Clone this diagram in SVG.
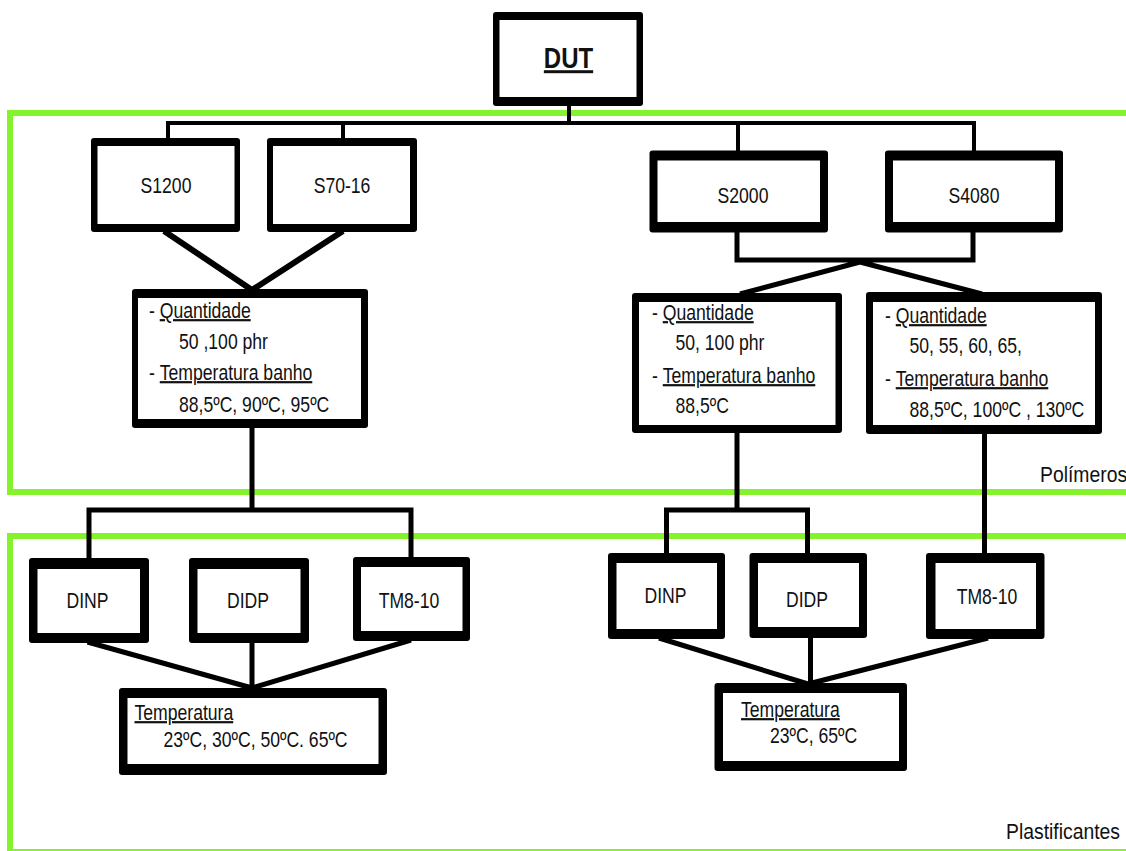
<svg xmlns="http://www.w3.org/2000/svg" width="1126" height="851" viewBox="0 0 1126 851">
<style>
.g{fill:none;stroke:#84f22c;stroke-width:6}
.o{fill:#000}
.i{fill:#fff}
.c{fill:none;stroke:#000;stroke-linejoin:miter;stroke-linecap:butt}
.t{font-family:"Liberation Sans",Arial,sans-serif;font-size:22px;fill:#111}
.m{text-anchor:middle}
.u{text-decoration:underline}
</style>
<rect width="1126" height="851" fill="#fff"/>
<g id="zones">
<rect class="g" x="10" y="113" width="1140" height="379"/>
<rect class="g" x="10" y="536" width="1140" height="316"/>
<text class="t" transform="translate(1040,482) scale(0.88,1)">Polímeros</text>
<text class="t" transform="translate(1006,839) scale(0.88,1)">Plastificantes</text>
</g>
<g id="connectors">
<path class="c" stroke-width="4" d="M569 104V123M168 140V123H974V152M343 123V140M738 123V152"/>
<path class="c" stroke-width="6" d="M164 231L252 290M343 231L252 290"/>
<path class="c" stroke-width="5" d="M737 232V260H973V232M860 262L740 294M860 262L982 294"/>
<path class="c" stroke-width="5" d="M252 428V510M89 558V510H411V558"/>
<path class="c" stroke-width="5" d="M737 433V510M666.5 555V510H807.5V555"/>
<path class="c" stroke-width="5" d="M984.5 434V555"/>
<path class="c" stroke-width="5" d="M87.5 642L252 688M252 643V688M411 640L252 688"/>
<path class="c" stroke-width="5" d="M659 638L808 684M810.5 638V684M988 638L808 684"/>
</g>
<g id="DUT">
<rect class="o" x="493" y="12" width="150" height="94" rx="3"/>
<rect class="i" x="499.5" y="20" width="137" height="77"/>
<text class="t m u" style="font-size:30px;font-weight:bold" transform="translate(568.5,68) scale(0.8,1)">DUT</text>
</g>
<g id="S1200">
<rect class="o" x="91" y="138" width="149" height="94" rx="3"/>
<rect class="i" x="97.5" y="146" width="137" height="78"/>
<text class="t m" transform="translate(166,193) scale(0.8,1)">S1200</text>
</g>
<g id="S70-16">
<rect class="o" x="267" y="138" width="150" height="94" rx="3"/>
<rect class="i" x="273" y="146" width="137" height="78"/>
<text class="t m" transform="translate(342,193) scale(0.8,1)">S70-16</text>
</g>
<g id="S2000">
<rect class="o" x="649.5" y="150.5" width="178.5" height="82" rx="3"/>
<rect class="i" x="657.5" y="160.5" width="162.5" height="61.5"/>
<text class="t m" transform="translate(743,203) scale(0.8,1)">S2000</text>
</g>
<g id="S4080">
<rect class="o" x="885" y="150.5" width="178" height="82" rx="3"/>
<rect class="i" x="893" y="160.5" width="162" height="61.5"/>
<text class="t m" transform="translate(974,203) scale(0.8,1)">S4080</text>
</g>
<g id="P1">
<rect class="o" x="132" y="289" width="236" height="139" rx="3"/>
<rect class="i" x="138" y="298" width="223" height="121"/>
<text class="t" transform="translate(149,318) scale(0.8,1)">- <tspan class="u">Quantidade</tspan></text>
<text class="t" transform="translate(179,349) scale(0.8,1)">50 ,100 phr</text>
<text class="t" transform="translate(149,380) scale(0.8,1)">- <tspan class="u">Temperatura banho</tspan></text>
<text class="t" transform="translate(179,412) scale(0.8,1)">88,5ºC, 90ºC, 95ºC</text>
</g>
<g id="P2">
<rect class="o" x="632" y="293" width="210" height="140" rx="3"/>
<rect class="i" x="639" y="302" width="196.5" height="123"/>
<text class="t" transform="translate(652,320) scale(0.8,1)">- <tspan class="u">Quantidade</tspan></text>
<text class="t" transform="translate(675.5,350) scale(0.8,1)">50, 100 phr</text>
<text class="t" transform="translate(652,383) scale(0.8,1)">- <tspan class="u">Temperatura banho</tspan></text>
<text class="t" transform="translate(675.5,413) scale(0.8,1)">88,5ºC</text>
</g>
<g id="P3">
<rect class="o" x="866" y="292" width="236" height="142" rx="3"/>
<rect class="i" x="873" y="302" width="222" height="123"/>
<text class="t" transform="translate(885,323) scale(0.8,1)">- <tspan class="u">Quantidade</tspan></text>
<text class="t" transform="translate(909.5,353) scale(0.8,1)">50, 55, 60, 65,</text>
<text class="t" transform="translate(885,386) scale(0.8,1)">- <tspan class="u">Temperatura banho</tspan></text>
<text class="t" transform="translate(909.5,417) scale(0.8,1)">88,5ºC, 100ºC , 130ºC</text>
</g>
<g id="DINP1">
<rect class="o" x="29" y="558" width="120" height="85" rx="3"/>
<rect class="i" x="37.5" y="569" width="102.5" height="64"/>
<text class="t m" transform="translate(87.5,608) scale(0.8,1)">DINP</text>
</g>
<g id="DIDP1">
<rect class="o" x="189" y="558" width="120" height="85" rx="3"/>
<rect class="i" x="197.5" y="569" width="103" height="64"/>
<text class="t m" transform="translate(248,608) scale(0.8,1)">DIDP</text>
</g>
<g id="TM1">
<rect class="o" x="353" y="557" width="117" height="84" rx="3"/>
<rect class="i" x="361" y="567" width="101.5" height="64"/>
<text class="t m" transform="translate(409,608) scale(0.8,1)">TM8-10</text>
</g>
<g id="T1">
<rect class="o" x="119" y="688" width="268" height="87" rx="3"/>
<rect class="i" x="127.5" y="698" width="251" height="66"/>
<text class="t u" transform="translate(134.5,720) scale(0.8,1)">Temperatura</text>
<text class="t" transform="translate(163.5,747) scale(0.8,1)">23ºC, 30ºC, 50ºC. 65ºC</text>
</g>
<g id="DINP2">
<rect class="o" x="608" y="553" width="117" height="86" rx="3"/>
<rect class="i" x="616.5" y="563" width="100.5" height="66"/>
<text class="t m" transform="translate(665.5,603) scale(0.8,1)">DINP</text>
</g>
<g id="DIDP2">
<rect class="o" x="749.5" y="553" width="117.5" height="85" rx="3"/>
<rect class="i" x="758" y="563" width="101" height="64"/>
<text class="t m" transform="translate(807,607) scale(0.8,1)">DIDP</text>
</g>
<g id="TM2">
<rect class="o" x="926" y="553" width="118.5" height="86" rx="3"/>
<rect class="i" x="935.5" y="563" width="100.5" height="66"/>
<text class="t m" transform="translate(987,604) scale(0.8,1)">TM8-10</text>
</g>
<g id="T2">
<rect class="o" x="714.5" y="683" width="192.5" height="88" rx="3"/>
<rect class="i" x="723" y="693" width="176" height="68"/>
<text class="t u" transform="translate(741,717) scale(0.8,1)">Temperatura</text>
<text class="t" transform="translate(770,743) scale(0.8,1)">23ºC, 65ºC</text>
</g>
</svg>
